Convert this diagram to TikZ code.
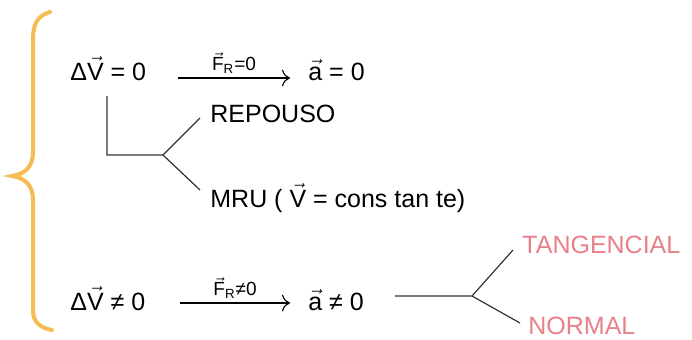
\documentclass[tikz,border=0pt]{standalone}
\usepackage{fontspec}
\setmainfont{Liberation Sans}
\usetikzlibrary{arrows.meta}
\definecolor{braceorange}{RGB}{246,188,84}
\definecolor{pinktext}{RGB}{232,128,138}
\newcommand{\vetor}[1]{$\vec{\mbox{#1}}$}
\begin{document}
\begin{tikzpicture}[x=0.5pt,y=-0.5pt,
    lbl/.style={font=\fontsize{12.5}{15}\selectfont, inner sep=0pt, anchor=base west},
    pinklbl/.style={lbl, text=pinktext},
    small/.style={font=\fontsize{9.5}{11}\selectfont, inner sep=1pt},
    conn/.style={line width=0.6pt, black!80},
    implies/.style={-{To[length=4pt]}, line width=0.55pt}]
\useasboundingbox (0,0) rectangle (692,339);

% Chave laranja
\draw[braceorange, line width=2pt, line cap=round]
    (50,12) .. controls (37,16) and (33,24) .. (33,40)
    -- (33,152) .. controls (33,168) and (24,174) .. (12,176)
    .. controls (24,178) and (33,184) .. (33,200)
    -- (33,310) .. controls (33,322) and (40,328) .. (52,330);

% Primeira linha
\node[lbl] (dv0) at (70,80) {Δ\vetor{V} = 0};
\node[lbl] (a0) at (308,80) {\vetor{a} = 0};
\coordinate (s0) at (178,78);
\coordinate (e0) at (290,78);
\draw[implies] (s0) -- (e0) node[midway, above=1pt, small] {\vetor{F}\textsubscript{R}=0};

% Ramos: repouso e MRU
\node[lbl] (rep) at (210,122) {REPOUSO};
\node[lbl] (mru) at (210,207) {MRU ( \vetor{V} = cons tan te)};
\coordinate (t0) at (107,96);
\coordinate (c0) at (107,155);
\coordinate (b0) at (163,155);
\coordinate (u0) at (200,118);
\coordinate (d0) at (200,190);
\draw[conn] (t0) -- (c0) -- (b0) -- (u0);
\draw[conn] (b0) -- (d0);

% Segunda linha
\node[lbl] (dv1) at (70,310) {Δ\vetor{V} ≠ 0};
\node[lbl] (a1) at (308,310) {\vetor{a} ≠ 0};
\coordinate (s1) at (180,303);
\coordinate (e1) at (290,303);
\draw[implies] (s1) -- (e1) node[midway, above=1pt, small] {\vetor{F}\textsubscript{R}≠0};

% Ramos: tangencial e normal
\node[pinklbl] (tan) at (522,253) {TANGENCIAL};
\node[pinklbl] (nor) at (528,334) {NORMAL};
\coordinate (h1) at (395,296);
\coordinate (b1) at (472,296);
\coordinate (u1) at (513,250);
\coordinate (d1) at (520,323);
\draw[conn] (h1) -- (b1) -- (u1);
\draw[conn] (b1) -- (d1);
\end{tikzpicture}
\end{document}
